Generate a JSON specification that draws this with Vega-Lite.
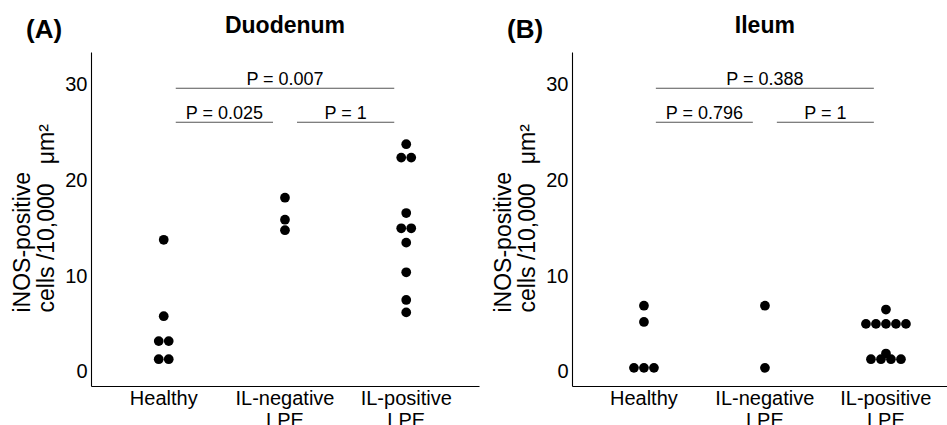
{
  "$schema": "https://vega.github.io/schema/vega-lite/v6.json",
  "autosize": {"type": "none"},
  "padding": {"left": 91, "top": 52, "right": 856, "bottom": 373},
  "background": "white",
  "config": {
    "view": {"stroke": null},
    "font": "Liberation Sans",
    "axis": {"domainColor": "black", "domainWidth": 1.1, "ticks": false, "tickSize": 0, "grid": false, "labelColor": "black", "titleColor": "black", "labelFont": "Liberation Sans", "titleFont": "Liberation Sans", "labelFontSize": 20}
  },
  "datasets": {
    "points": [
      {"tissue": "Duodenum", "group": "Healthy", "value": 13.8, "slot": 0},
      {"tissue": "Duodenum", "group": "Healthy", "value": 5.8, "slot": 0},
      {"tissue": "Duodenum", "group": "Healthy", "value": 3.2, "slot": -0.5},
      {"tissue": "Duodenum", "group": "Healthy", "value": 3.2, "slot": 0.5},
      {"tissue": "Duodenum", "group": "Healthy", "value": 1.3, "slot": -0.5},
      {"tissue": "Duodenum", "group": "Healthy", "value": 1.3, "slot": 0.5},
      {"tissue": "Duodenum", "group": "IL-negative LPE", "value": 18.2, "slot": 0},
      {"tissue": "Duodenum", "group": "IL-negative LPE", "value": 15.9, "slot": 0},
      {"tissue": "Duodenum", "group": "IL-negative LPE", "value": 14.8, "slot": 0},
      {"tissue": "Duodenum", "group": "IL-positive LPE", "value": 23.8, "slot": 0},
      {"tissue": "Duodenum", "group": "IL-positive LPE", "value": 22.4, "slot": -0.5},
      {"tissue": "Duodenum", "group": "IL-positive LPE", "value": 22.4, "slot": 0.5},
      {"tissue": "Duodenum", "group": "IL-positive LPE", "value": 16.6, "slot": 0},
      {"tissue": "Duodenum", "group": "IL-positive LPE", "value": 15.0, "slot": -0.5},
      {"tissue": "Duodenum", "group": "IL-positive LPE", "value": 15.0, "slot": 0.5},
      {"tissue": "Duodenum", "group": "IL-positive LPE", "value": 13.5, "slot": 0},
      {"tissue": "Duodenum", "group": "IL-positive LPE", "value": 10.4, "slot": 0},
      {"tissue": "Duodenum", "group": "IL-positive LPE", "value": 7.5, "slot": 0},
      {"tissue": "Duodenum", "group": "IL-positive LPE", "value": 6.2, "slot": 0},
      {"tissue": "Ileum", "group": "Healthy", "value": 6.9, "slot": 0},
      {"tissue": "Ileum", "group": "Healthy", "value": 5.2, "slot": 0},
      {"tissue": "Ileum", "group": "Healthy", "value": 0.4, "slot": -1},
      {"tissue": "Ileum", "group": "Healthy", "value": 0.4, "slot": 0},
      {"tissue": "Ileum", "group": "Healthy", "value": 0.4, "slot": 1},
      {"tissue": "Ileum", "group": "IL-negative LPE", "value": 6.9, "slot": 0},
      {"tissue": "Ileum", "group": "IL-negative LPE", "value": 0.4, "slot": 0},
      {"tissue": "Ileum", "group": "IL-positive LPE", "value": 6.5, "slot": 0},
      {"tissue": "Ileum", "group": "IL-positive LPE", "value": 5.0, "slot": -2},
      {"tissue": "Ileum", "group": "IL-positive LPE", "value": 5.0, "slot": -1},
      {"tissue": "Ileum", "group": "IL-positive LPE", "value": 5.0, "slot": 0},
      {"tissue": "Ileum", "group": "IL-positive LPE", "value": 5.0, "slot": 1},
      {"tissue": "Ileum", "group": "IL-positive LPE", "value": 5.0, "slot": 2},
      {"tissue": "Ileum", "group": "IL-positive LPE", "value": 1.9, "slot": 0},
      {"tissue": "Ileum", "group": "IL-positive LPE", "value": 1.3, "slot": -1.5},
      {"tissue": "Ileum", "group": "IL-positive LPE", "value": 1.3, "slot": -0.5},
      {"tissue": "Ileum", "group": "IL-positive LPE", "value": 1.3, "slot": 0.5},
      {"tissue": "Ileum", "group": "IL-positive LPE", "value": 1.3, "slot": 1.5}
    ],
    "brackets": [
      {"tissue": "Duodenum", "from": "Healthy", "to": "IL-positive LPE", "y": 29.65, "label": "P = 0.007"},
      {"tissue": "Duodenum", "from": "Healthy", "to": "IL-negative LPE", "y": 26.1, "label": "P = 0.025"},
      {"tissue": "Duodenum", "from": "IL-negative LPE", "to": "IL-positive LPE", "y": 26.1, "label": "P = 1"},
      {"tissue": "Ileum", "from": "Healthy", "to": "IL-positive LPE", "y": 29.65, "label": "P = 0.388"},
      {"tissue": "Ileum", "from": "Healthy", "to": "IL-negative LPE", "y": 26.1, "label": "P = 0.796"},
      {"tissue": "Ileum", "from": "IL-negative LPE", "to": "IL-positive LPE", "y": 26.1, "label": "P = 1"}
    ],
    "titles": [
      {"tissue": "Duodenum", "name": "Duodenum"},
      {"tissue": "Ileum", "name": "Ileum"}
    ]
  },
  "bounds": "flush",
  "spacing": 93,
  "hconcat": [
    {
      "width": 388,
      "height": 334,
      "title": {"text": "(A)", "anchor": "start", "frame": "group", "fontSize": 26, "fontWeight": "bold", "color": "black", "dx": -65, "dy": 49, "offset": 0, "baseline": "alphabetic"},
      "layer": [
        {
          "data": {"name": "points"},
          "transform": [{"filter": "datum.tissue == 'Duodenum'"}],
          "mark": {"type": "circle", "size": 95, "color": "black", "opacity": 1},
          "encoding": {
            "x": {"field": "group", "type": "nominal",
              "scale": {"type": "band", "domain": ["Healthy", "IL-negative LPE", "IL-positive LPE"], "paddingInner": 0, "paddingOuter": 0.1, "align": 0.5},
              "axis": {"title": null, "labelAngle": 0, "labelPadding": 2, "labelLineHeight": 22, "labelBaseline": "top", "labelExpr": "datum.value == 'Healthy' ? 'Healthy' : split(datum.value, ' ')"}},
            "xOffset": {"field": "slot", "type": "quantitative", "scale": {"domain": [-2, 2], "range": [40.6, 80.6]}},
            "y": {"field": "value", "type": "quantitative",
              "scale": {"domain": [-1.5, 33.45], "nice": false, "zero": false},
              "axis": {"title": ["iNOS-positive", "cells /10,000\u00a0\u00a0\u00a0μm²"], "values": [0, 10, 20, 30], "labelPadding": 4, "titleFontSize": 23, "titleFontWeight": "normal", "titleAngle": 270, "titleAlign": "left", "titleBaseline": "alphabetic", "titleX": -62, "titleY": 260, "titleLineHeight": 24}}
          }
        },
        {
          "data": {"name": "brackets"},
          "transform": [{"filter": "datum.tissue == 'Duodenum'"}],
          "mark": {"type": "rule", "color": "#555555", "strokeWidth": 1.1, "xOffset": 12, "x2Offset": -12},
          "encoding": {
            "x": {"field": "from", "type": "nominal", "bandPosition": 0.5, "scale": {"type": "band", "domain": ["Healthy", "IL-negative LPE", "IL-positive LPE"], "paddingInner": 0, "paddingOuter": 0.1, "align": 0.5}},
            "x2": {"field": "to", "bandPosition": 0.5},
            "y": {"field": "y", "type": "quantitative", "scale": {"domain": [-1.5, 33.45], "nice": false, "zero": false}}
          }
        },
        {
          "data": {"name": "brackets"},
          "transform": [{"filter": "datum.tissue == 'Duodenum' && datum.from == 'Healthy' && datum.to == 'IL-positive LPE'"}],
          "mark": {"type": "text", "fontSize": 18, "color": "black", "baseline": "alphabetic", "dy": -3.5, "align": "center"},
          "encoding": {
            "x": {"field": "to", "type": "nominal", "bandPosition": -0.5, "scale": {"type": "band", "domain": ["Healthy", "IL-negative LPE", "IL-positive LPE"], "paddingInner": 0, "paddingOuter": 0.1, "align": 0.5}},
            "y": {"field": "y", "type": "quantitative", "scale": {"domain": [-1.5, 33.45], "nice": false, "zero": false}},
            "text": {"field": "label"}
          }
        },
        {
          "data": {"name": "brackets"},
          "transform": [{"filter": "datum.tissue == 'Duodenum' && !(datum.from == 'Healthy' && datum.to == 'IL-positive LPE')"}],
          "mark": {"type": "text", "fontSize": 18, "color": "black", "baseline": "alphabetic", "dy": -3.5, "align": "center"},
          "encoding": {
            "x": {"field": "to", "type": "nominal", "bandPosition": 0, "scale": {"type": "band", "domain": ["Healthy", "IL-negative LPE", "IL-positive LPE"], "paddingInner": 0, "paddingOuter": 0.1, "align": 0.5}},
            "y": {"field": "y", "type": "quantitative", "scale": {"domain": [-1.5, 33.45], "nice": false, "zero": false}},
            "text": {"field": "label"}
          }
        },
        {
          "data": {"name": "titles"},
          "transform": [{"filter": "datum.tissue == 'Duodenum'"}],
          "mark": {"type": "text", "fontSize": 23, "fontWeight": "bold", "color": "black", "baseline": "alphabetic", "align": "center"},
          "encoding": {
            "x": {"datum": "IL-negative LPE", "type": "nominal", "bandPosition": 0.5, "scale": {"type": "band", "domain": ["Healthy", "IL-negative LPE", "IL-positive LPE"], "paddingInner": 0, "paddingOuter": 0.1, "align": 0.5}},
            "y": {"datum": 35.44, "type": "quantitative", "scale": {"domain": [-1.5, 33.45], "nice": false, "zero": false}},
            "text": {"field": "name"}
          }
        }
      ]
    },
    {
      "width": 375,
      "height": 334,
      "title": {"text": "(B)", "anchor": "start", "frame": "group", "fontSize": 26, "fontWeight": "bold", "color": "black", "dx": -65, "dy": 49, "offset": 0, "baseline": "alphabetic"},
      "layer": [
        {
          "data": {"name": "points"},
          "transform": [{"filter": "datum.tissue == 'Ileum'"}],
          "mark": {"type": "circle", "size": 95, "color": "black", "opacity": 1},
          "encoding": {
            "x": {"field": "group", "type": "nominal",
              "scale": {"type": "band", "domain": ["Healthy", "IL-negative LPE", "IL-positive LPE"], "paddingInner": 0, "paddingOuter": 0.0496, "align": 0.946},
              "axis": {"title": null, "labelAngle": 0, "labelPadding": 2, "labelLineHeight": 22, "labelBaseline": "top", "labelExpr": "datum.value == 'Healthy' ? 'Healthy' : split(datum.value, ' ')"}},
            "xOffset": {"field": "slot", "type": "quantitative", "scale": {"domain": [-2, 2], "range": [40.5, 80.5]}},
            "y": {"field": "value", "type": "quantitative",
              "scale": {"domain": [-1.5, 33.45], "nice": false, "zero": false},
              "axis": {"title": ["iNOS-positive", "cells /10,000\u00a0\u00a0\u00a0μm²"], "values": [0, 10, 20, 30], "labelPadding": 4, "titleFontSize": 23, "titleFontWeight": "normal", "titleAngle": 270, "titleAlign": "left", "titleBaseline": "alphabetic", "titleX": -62, "titleY": 260, "titleLineHeight": 24}}
          }
        },
        {
          "data": {"name": "brackets"},
          "transform": [{"filter": "datum.tissue == 'Ileum'"}],
          "mark": {"type": "rule", "color": "#555555", "strokeWidth": 1.1, "xOffset": 12, "x2Offset": -12},
          "encoding": {
            "x": {"field": "from", "type": "nominal", "bandPosition": 0.5, "scale": {"type": "band", "domain": ["Healthy", "IL-negative LPE", "IL-positive LPE"], "paddingInner": 0, "paddingOuter": 0.0496, "align": 0.946}},
            "x2": {"field": "to", "bandPosition": 0.5},
            "y": {"field": "y", "type": "quantitative", "scale": {"domain": [-1.5, 33.45], "nice": false, "zero": false}}
          }
        },
        {
          "data": {"name": "brackets"},
          "transform": [{"filter": "datum.tissue == 'Ileum' && datum.from == 'Healthy' && datum.to == 'IL-positive LPE'"}],
          "mark": {"type": "text", "fontSize": 18, "color": "black", "baseline": "alphabetic", "dy": -3.5, "align": "center"},
          "encoding": {
            "x": {"field": "to", "type": "nominal", "bandPosition": -0.5, "scale": {"type": "band", "domain": ["Healthy", "IL-negative LPE", "IL-positive LPE"], "paddingInner": 0, "paddingOuter": 0.0496, "align": 0.946}},
            "y": {"field": "y", "type": "quantitative", "scale": {"domain": [-1.5, 33.45], "nice": false, "zero": false}},
            "text": {"field": "label"}
          }
        },
        {
          "data": {"name": "brackets"},
          "transform": [{"filter": "datum.tissue == 'Ileum' && !(datum.from == 'Healthy' && datum.to == 'IL-positive LPE')"}],
          "mark": {"type": "text", "fontSize": 18, "color": "black", "baseline": "alphabetic", "dy": -3.5, "align": "center"},
          "encoding": {
            "x": {"field": "to", "type": "nominal", "bandPosition": 0, "scale": {"type": "band", "domain": ["Healthy", "IL-negative LPE", "IL-positive LPE"], "paddingInner": 0, "paddingOuter": 0.0496, "align": 0.946}},
            "y": {"field": "y", "type": "quantitative", "scale": {"domain": [-1.5, 33.45], "nice": false, "zero": false}},
            "text": {"field": "label"}
          }
        },
        {
          "data": {"name": "titles"},
          "transform": [{"filter": "datum.tissue == 'Ileum'"}],
          "mark": {"type": "text", "fontSize": 23, "fontWeight": "bold", "color": "black", "baseline": "alphabetic", "align": "center"},
          "encoding": {
            "x": {"datum": "IL-negative LPE", "type": "nominal", "bandPosition": 0.5, "scale": {"type": "band", "domain": ["Healthy", "IL-negative LPE", "IL-positive LPE"], "paddingInner": 0, "paddingOuter": 0.0496, "align": 0.946}},
            "y": {"datum": 35.44, "type": "quantitative", "scale": {"domain": [-1.5, 33.45], "nice": false, "zero": false}},
            "text": {"field": "name"}
          }
        }
      ]
    }
  ]
}
